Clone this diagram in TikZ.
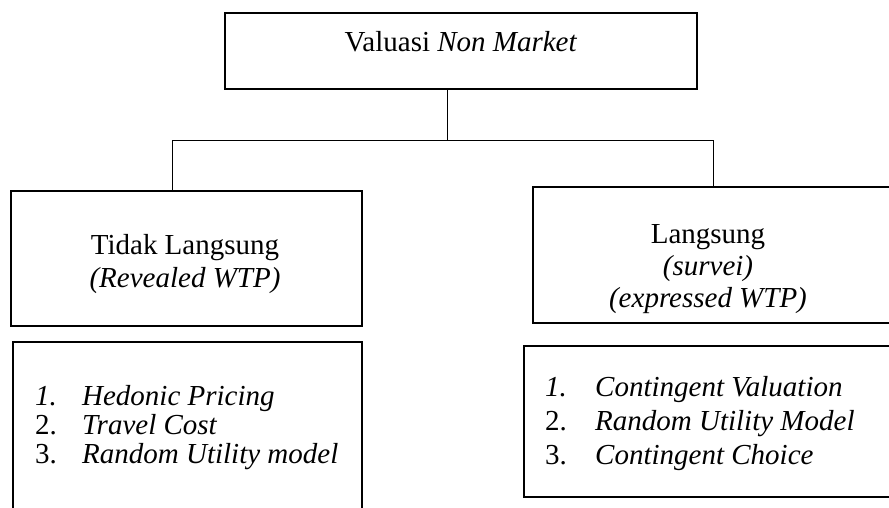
\documentclass[tikz,border=0pt]{standalone}
\usepackage{fontspec}
\setmainfont{Liberation Serif}
\begin{document}
\begin{tikzpicture}[x=1pt,y=-1pt,
  box/.style={draw, line width=1.6pt, rectangle, inner sep=0pt},
  conn/.style={draw, line width=0.8pt},
  txt/.style={inner sep=0pt, font=\fontsize{29}{33}\selectfont, align=center}]
\useasboundingbox (0,0) rectangle (889,508);
\clip (0,0) rectangle (889,508);
\fill[white] (0,0) rectangle (889,508);
% top box
\node[box, minimum width=472pt, minimum height=76pt] (top) at (461,51) {};
\node[txt, anchor=base] (toptext) at (461,52) {Valuasi \textit{Non Market}};
% level 2 boxes
\node[box, minimum width=351pt, minimum height=135pt] (left) at (186.5,258.5) {};
\node[txt, anchor=base] (lefttext) at (185,287) {Tidak Langsung\\\textit{(Revealed WTP)}};
\node[box, minimum width=362pt, minimum height=136pt] (right) at (714,255) {};
\node[txt, anchor=base, font=\fontsize{29}{32}\selectfont] (righttext) at (708,307) {Langsung\\\textit{(survei)}\\\textit{(expressed WTP)}};
% connectors
\coordinate (jc) at (447,140);
\coordinate (jl) at (172,140);
\coordinate (jr) at (713,140);
\draw[conn] (top.south -| jc) -- (jc);
\draw[conn] (left.north -| jl) -- (jl) -- (jr) -- (right.north -| jr);
% bottom boxes
\node[box, minimum width=349pt, minimum height=180pt] (bl) at (187.5,432) {};
\node[txt, anchor=base west, align=left] (bltext) at (35,405)
  {\fontsize{29}{29}\selectfont\begin{tabular}[t]{@{}p{47pt}@{}l@{}}
   \textit{1.} & \textit{Hedonic Pricing}\\
   2. & \textit{Travel Cost}\\
   3. & \textit{Random Utility model}
   \end{tabular}};
\node[box, minimum width=371pt, minimum height=151pt] (br) at (709.5,421.5) {};
\node[txt, anchor=base west, align=left] (brtext) at (545,396)
  {\fontsize{29}{34}\selectfont\begin{tabular}[t]{@{}p{50pt}@{}l@{}}
   \textit{1.} & \textit{Contingent Valuation}\\
   2. & \textit{Random Utility Model}\\
   3. & \textit{Contingent Choice}
   \end{tabular}};
\end{tikzpicture}
\end{document}
